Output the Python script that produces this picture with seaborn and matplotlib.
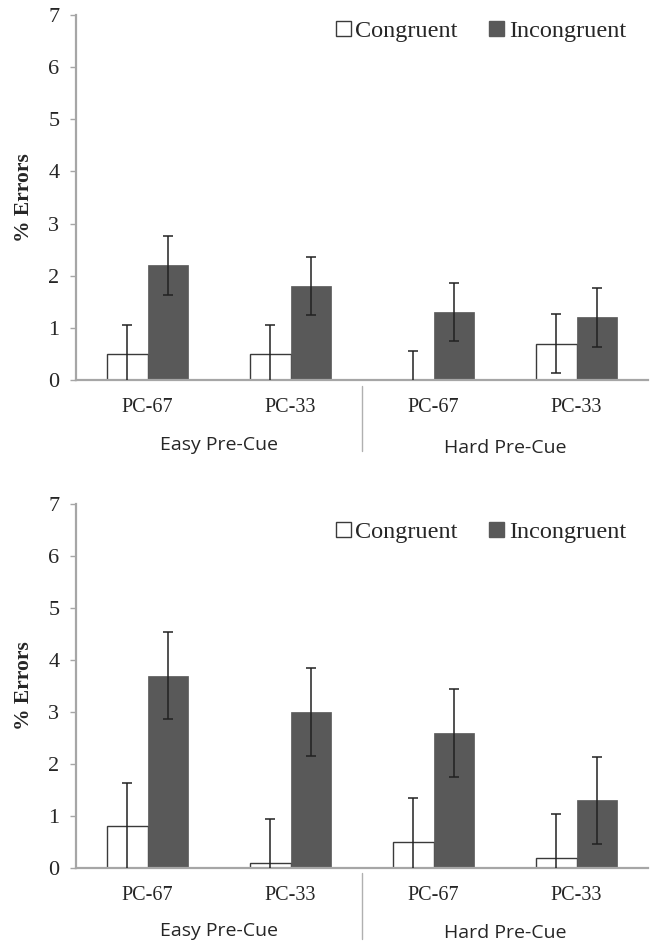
import matplotlib
matplotlib.use("Agg")
import matplotlib.pyplot as plt
import seaborn as sns
import pandas as pd
import numpy as np
from matplotlib.patches import Patch
from matplotlib.lines import Line2D

conditions = ["PC-67", "PC-33", "PC-67 ", "PC-33 "]
tick_labels = ["PC-67", "PC-33", "PC-67", "PC-33"]
groups = ["Easy Pre-Cue", "Hard Pre-Cue"]
series = ["Congruent", "Incongruent"]

top_congruent = [0.5, 0.5, 0.0, 0.7]
top_incongruent = [2.2, 1.8, 1.3, 1.2]
top_err_congruent = [0.56, 0.56, 0.56, 0.56]
top_err_incongruent = [0.56, 0.56, 0.56, 0.56]

bot_congruent = [0.8, 0.1, 0.5, 0.2]
bot_incongruent = [3.7, 3.0, 2.6, 1.3]
bot_err_congruent = [0.84, 0.84, 0.84, 0.84]
bot_err_incongruent = [0.84, 0.84, 0.84, 0.84]

sns.set_theme(style="white")
plt.rcParams['font.family'] = ['Liberation Serif', 'DejaVu Serif']

fig = plt.figure(figsize=(6.5, 9.43), dpi=100)
ax_top = fig.add_axes([0.117, 0.597, 0.88, 0.387])
ax_bot = fig.add_axes([0.117, 0.0795, 0.88, 0.386])

axis_col = "#a6a6a6"
dark = "#595959"

def draw(ax, cong, incong, ec, ei, gy, leg_y):
    df = pd.DataFrame({
        "cond": conditions * 2,
        "series": [series[0]] * 4 + [series[1]] * 4,
        "value": cong + incong,
    })
    sns.barplot(data=df, x="cond", y="value", hue="series", order=conditions,
                hue_order=series, palette={"Congruent": "white", "Incongruent": dark},
                width=0.57, errorbar=None, legend=False, ax=ax)
    errs = ec + ei
    for i, p in enumerate(ax.patches[:8]):
        if i < 4:
            p.set_edgecolor("#3a3a3a")
            p.set_linewidth(1.0)
        else:
            p.set_edgecolor(dark)
            p.set_linewidth(0.5)
        xc = p.get_x() + p.get_width() / 2
        h = p.get_height()
        ax.errorbar(xc, h, yerr=errs[i], fmt="none", ecolor="#222222",
                    elinewidth=1.1, capsize=3.5, capthick=1.1, zorder=5)
    ax.set_xlim(-0.5, 3.5)
    ax.set_ylim(0, 7)
    ax.set_yticks(range(0, 8))
    ax.set_xticks(range(4))
    ax.set_xticklabels(tick_labels, fontsize=14.5)
    ax.tick_params(axis="y", labelsize=16, length=4, width=1, color=axis_col, pad=8, left=True)
    ax.tick_params(axis="x", length=0, pad=13)
    ax.set_xlabel("")
    ax.set_ylabel("% Errors", fontsize=15.5, fontweight="bold", labelpad=10)
    for s in ["top", "right"]:
        ax.spines[s].set_visible(False)
    for s in ["left", "bottom"]:
        ax.spines[s].set_color(axis_col)
        ax.spines[s].set_linewidth(1.6)
    # group labels and separator
    ax.text(0.5, gy[0], groups[0], transform=ax.get_xaxis_transform(),
            ha="center", va="center", fontsize=14, family=["Open Sans", "DejaVu Sans"])
    ax.text(2.5, gy[1], groups[1], transform=ax.get_xaxis_transform(),
            ha="center", va="center", fontsize=14, family=["Open Sans", "DejaVu Sans"])
    ax.add_line(Line2D([1.5, 1.5], [-0.015, -0.195], transform=ax.get_xaxis_transform(),
                       color="#b0b0b0", lw=1, clip_on=False))
    handles = [Patch(facecolor="white", edgecolor="#3a3a3a", label=series[0]),
               Patch(facecolor=dark, edgecolor=dark, label=series[1])]
    ax.legend(handles=handles, loc="upper right", ncol=2, frameon=False,
              fontsize=17.5, handlelength=0.6, handleheight=0.6, handletextpad=0.2,
              columnspacing=1.3, bbox_to_anchor=(1.0, leg_y))

draw(ax_top, top_congruent, top_incongruent, top_err_congruent, top_err_incongruent,
     (-0.178, -0.186), 1.045)
draw(ax_bot, bot_congruent, bot_incongruent, bot_err_congruent, bot_err_incongruent,
     (-0.172, -0.178), 1.012)

fig.savefig("out.png", dpi=100)
